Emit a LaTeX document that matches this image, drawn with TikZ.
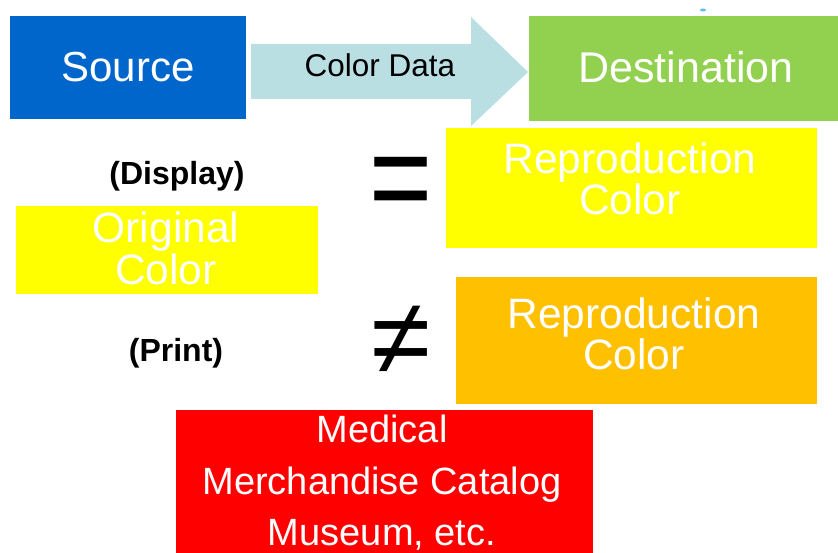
\documentclass[tikz,border=0pt]{standalone}
\usepackage{fontspec}
\setmainfont{Liberation Sans}
\definecolor{srcblue}{HTML}{0066CC}
\definecolor{arrblue}{HTML}{B9DFE2}
\definecolor{dstgreen}{HTML}{92D050}
\definecolor{ylw}{HTML}{FFFF00}
\definecolor{orng}{HTML}{FFC000}
\definecolor{redbox}{HTML}{FF0000}
\definecolor{dotblue}{HTML}{5BC0EB}
\begin{document}
\begin{tikzpicture}[x=1pt,y=-1pt,
  box/.style={rectangle, inner sep=0pt, outer sep=0pt, anchor=north west},
  wtxt/.style={text=white, align=center, inner sep=0pt},
  btxt/.style={text=black, inner sep=0pt, font=\bfseries\fontsize{32}{34}\selectfont},
  sym/.style={text=black, inner sep=0pt, font=\fontsize{108}{110}\selectfont}]
\useasboundingbox (0,0) rectangle (838,553);
\fill[white] (0,0) rectangle (838,553);
% top row
\node[box, fill=srcblue, minimum width=236pt, minimum height=103pt] (source) at (10,16) {};
\node[box, fill=dstgreen, minimum width=309pt, minimum height=105pt] (dest) at (529,16) {};
\fill[arrblue] (251,44) -- (471,44) -- (471,17) -- (528,72) -- (471,126) -- (471,99) -- (251,99) -- cycle;
\fill[dotblue] (703,10) ellipse (3pt and 1.5pt);
\node[wtxt, anchor=base, font=\fontsize{42}{40}\selectfont] (sourcet) at (128,82) {Source};
\node[text=black, inner sep=0pt, anchor=base, font=\fontsize{31.5}{32}\selectfont] (data) at (380,77) {Color Data};
\node[wtxt, anchor=base, font=\fontsize{43}{40}\selectfont] (destt) at (686,83) {Destination};
% boxes
\node[box, fill=ylw, minimum width=371pt, minimum height=120pt] (repro1) at (446,128) {};
\node[box, fill=ylw, minimum width=302pt, minimum height=88pt] (orig) at (16,206) {};
\node[box, fill=orng, minimum width=361pt, minimum height=127pt] (repro2) at (456,277) {};
\node[box, fill=redbox, minimum width=417pt, minimum height=143pt] (uses) at (176,410) {};
% texts
\node[wtxt, font=\fontsize{42.5}{39}\selectfont] (repro1t) at (630,179) {Reproduction\\Color};
\node[wtxt, font=\fontsize{42.5}{42}\selectfont] (origt) at (166,248) {Original\\Color};
\node[wtxt, font=\fontsize{42.5}{39}\selectfont] (repro2t) at (634,334) {Reproduction\\Color};
\node[wtxt, font=\fontsize{38}{51.5}\selectfont] (usest) at (382,483) {Medical\\Merchandise Catalog\\Museum, etc.};
\node[btxt, anchor=base] (display) at (177,185) {(Display)};
\node[btxt, anchor=base] (print) at (176,361) {(Print)};
\node[sym, anchor=center, yscale=1.25, transform shape] (eq) at (401,190) {=};
\node[sym, anchor=center] (neq) at (401,340) {≠};
\end{tikzpicture}
\end{document}
